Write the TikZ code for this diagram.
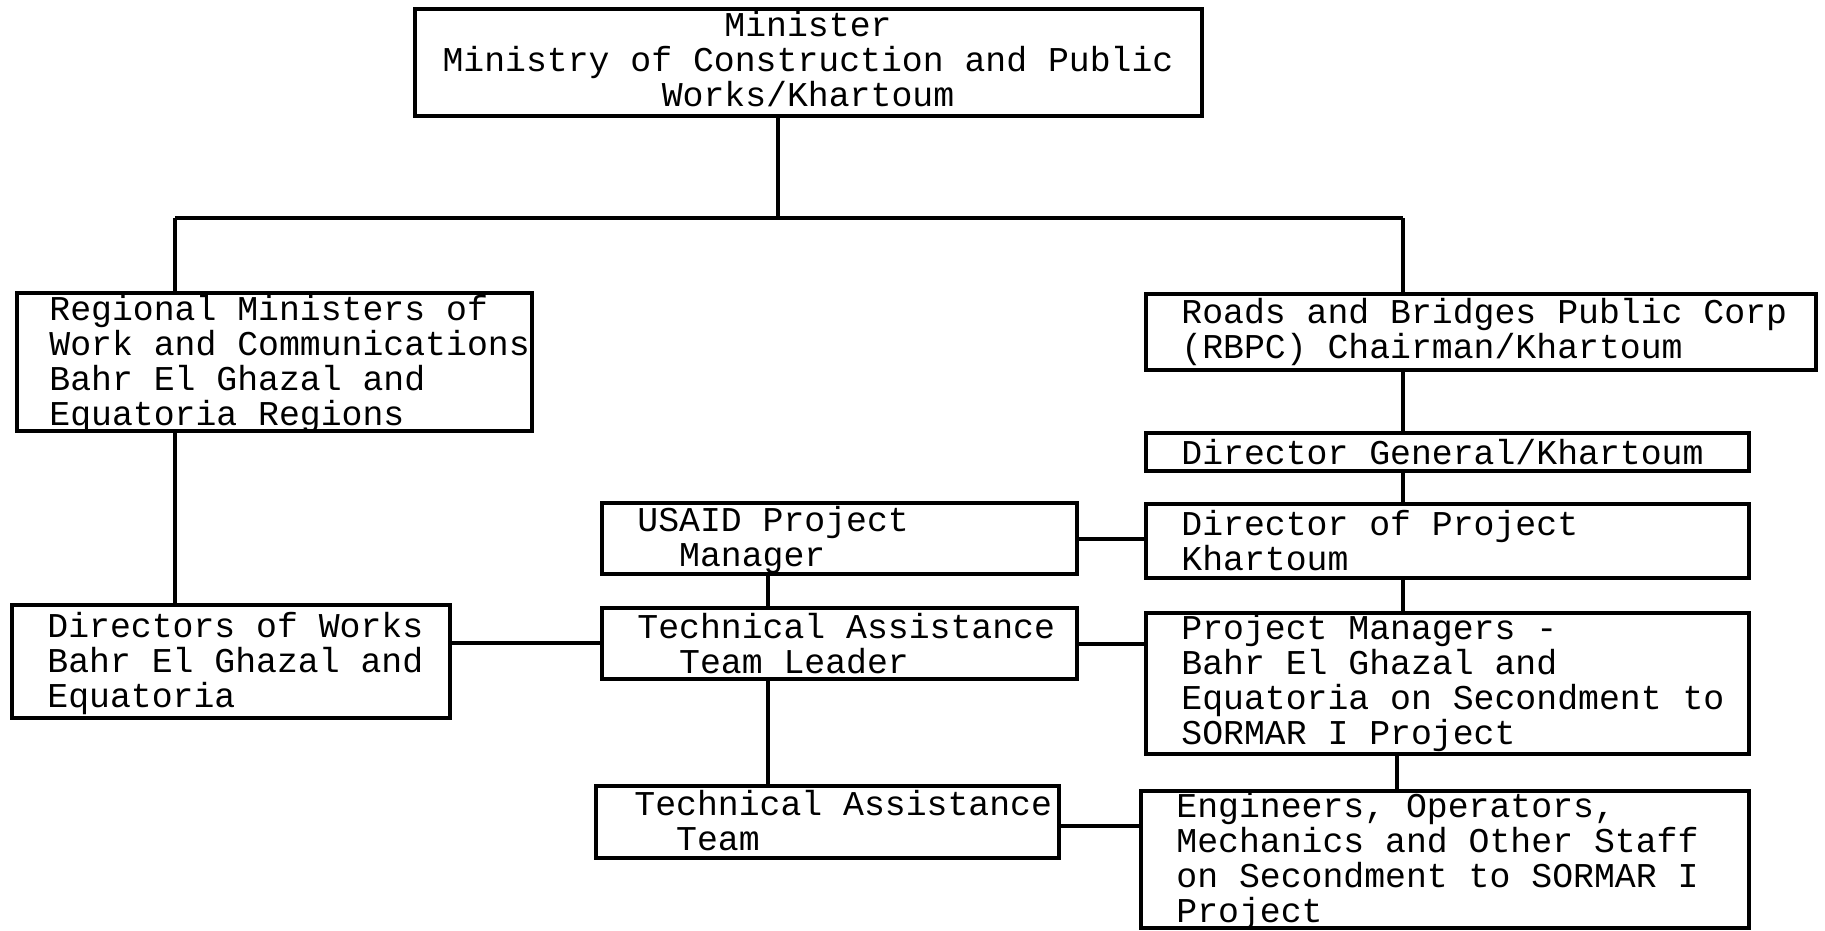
\documentclass[tikz,border=0pt]{standalone}
\usepackage{fontspec}
\newfontfamily\tw{Liberation Mono}
\usetikzlibrary{fit}
\begin{document}
\begin{tikzpicture}[x=0.5pt,y=-0.5pt,
  box/.style={draw, line width=1.8pt, inner sep=0pt, rectangle},
  txt/.style={anchor=north west, inner sep=0pt, align=left, font=\tw\fontsize{17.4pt}{17.5pt}\selectfont},
  ln/.style={line width=1.8pt}]
\useasboundingbox (0,0) rectangle (1825,931);
% boxes
\node[box, fit={(415,9)(1202,116)}] (top) {};
\node[box, fit={(17,293)(532,431)}] (reg) {};
\node[box, fit={(12,605)(450,718)}] (dow) {};
\node[box, fit={(1146,294)(1816,370)}] (rbpc) {};
\node[box, fit={(1146,433)(1749,471)}] (dg) {};
\node[box, fit={(1146,504)(1749,578)}] (dop) {};
\node[box, fit={(1146,613)(1749,754)}] (pm) {};
\node[box, fit={(1141,791)(1749,928)}] (eng) {};
\node[box, fit={(602,503)(1077,574)}] (usaid) {};
\node[box, fit={(602,608)(1077,679)}] (tal) {};
\node[box, fit={(596,786)(1059,858)}] (tat) {};
% texts
\node[txt, anchor=north, align=center] (ttop) at (808,11) {Minister\\Ministry of Construction and Public\\Works/Khartoum};
\node[txt] (treg) at (49,295) {Regional Ministers of\\Work and Communications\\Bahr El Ghazal and\\Equatoria Regions};
\node[txt] (tdow) at (47,612) {Directors of Works\\Bahr El Ghazal and\\Equatoria};
\node[txt] (trbpc) at (1181,298) {Roads and Bridges Public Corp\\(RBPC) Chairman/Khartoum};
\node[txt] (tdg) at (1181,439) {Director General/Khartoum};
\node[txt] (tdop) at (1181,510) {Director of Project\\Khartoum};
\node[txt] (tusaid) at (637,506) {USAID Project\\\hphantom{MM}Manager};
\node[txt] (ttal) at (637,613) {Technical Assistance\\\hphantom{MM}Team Leader};
\node[txt] (tpm) at (1181,614) {Project Managers -\\Bahr El Ghazal and\\Equatoria on Secondment to\\SORMAR I Project};
\node[txt] (ttat) at (634,790) {Technical Assistance\\\hphantom{MM}Team};
\node[txt] (teng) at (1176,792) {Engineers, Operators,\\Mechanics and Other Staff\\on Secondment to SORMAR I\\Project};
% connectors
\coordinate (j) at (778,218);
\coordinate (jl) at (175,218);
\coordinate (jr) at (1403,218);
\coordinate (cx) at (768,0);
\coordinate (ex) at (1397,0);
\draw[ln] (top.south -| j) -- (j);
\draw[ln] (jl) -- (jr);
\draw[ln] (jl) -- (reg.north -| jl);
\draw[ln] (jr) -- (rbpc.north -| jr);
\draw[ln] (reg.south -| jl) -- (dow.north -| jl);
\draw[ln] (rbpc.south -| jr) -- (dg.north -| jr);
\draw[ln] (dg.south -| jr) -- (dop.north -| jr);
\draw[ln] (dop.south -| jr) -- (pm.north -| jr);
\draw[ln] (pm.south -| ex) -- (eng.north -| ex);
\draw[ln] (usaid.east |- 0,539) -- (dop.west |- 0,539);
\draw[ln] (usaid.south -| cx) -- (tal.north -| cx);
\draw[ln] (tal.south -| cx) -- (tat.north -| cx);
\draw[ln] (dow.east |- 0,643) -- (tal.west |- 0,643);
\draw[ln] (tal.east |- 0,644) -- (pm.west |- 0,644);
\draw[ln] (tat.east |- 0,826) -- (eng.west |- 0,826);
\end{tikzpicture}
\end{document}
